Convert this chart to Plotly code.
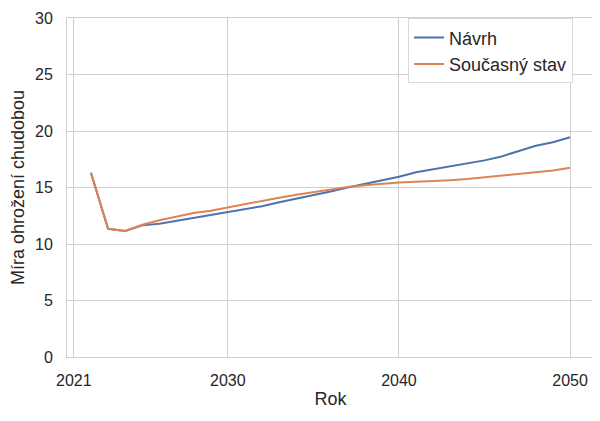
import plotly.graph_objects as go

years = list(range(2022, 2051))

navrh = [16.3, 11.35, 11.15, 11.65, 11.8, 12.05, 12.35, 12.55, 12.8, 13.1,
         13.35, 13.7, 14.0, 14.3, 14.65, 15.0, 15.3, 15.6, 15.95, 16.35,
         16.6, 16.85, 17.15, 17.4, 17.75, 18.2, 18.7, 19.0, 19.45]

soucasny = [16.3, 11.35, 11.15, 11.7, 12.1, 12.4, 12.75, 12.95, 13.25, 13.55,
            13.8, 14.1, 14.35, 14.6, 14.85, 15.05, 15.2, 15.35, 15.45, 15.5,
            15.55, 15.65, 15.75, 15.9, 16.05, 16.2, 16.3, 16.5, 16.75]

x_ticks = [2021, 2030, 2040, 2050]

fig = go.Figure()
fig.add_trace(go.Scatter(x=years, y=navrh, mode="lines", name="Návrh",
                         line=dict(color="#4c72b0", width=2)))
fig.add_trace(go.Scatter(x=years, y=soucasny, mode="lines", name="Současný stav",
                         line=dict(color="#dd8452", width=2)))

# page body has an 8px margin, so the figure is a bit smaller than the window
grid = "#cfcfcf"
fig.update_layout(
    width=592,
    height=413,
    margin=dict(l=59, r=6, t=10, b=64),
    paper_bgcolor="white",
    plot_bgcolor="white",
    font=dict(family="Liberation Sans, Arial, sans-serif", size=16, color="#262626"),
    showlegend=True,
    legend=dict(
        x=0.647, y=0.999, xanchor="left", yanchor="top",
        bgcolor="white", bordercolor="#d9d9d9", borderwidth=1,
        font=dict(size=18),
        tracegroupgap=0,
    ),
)
fig.update_xaxes(
    range=[2020.6, 2051.4],
    tickvals=x_ticks,
    ticktext=[str(t) for t in x_ticks],
    showgrid=True, gridcolor=grid, gridwidth=1,
    showline=True, linecolor=grid, linewidth=1, mirror=True,
    zeroline=False, ticks="", ticklabelstandoff=9,
    automargin=False,
    title=dict(text="Rok", font=dict(size=18), standoff=4),
)
fig.update_yaxes(
    range=[0, 30],
    dtick=5,
    showgrid=True, gridcolor=grid, gridwidth=1,
    showline=True, linecolor=grid, linewidth=1, mirror=True,
    zeroline=False, ticks="", ticklabelstandoff=10,
    automargin=False,
    title=dict(text="Míra ohrožení chudobou", font=dict(size=18), standoff=6),
)

fig.write_html("out.html")
